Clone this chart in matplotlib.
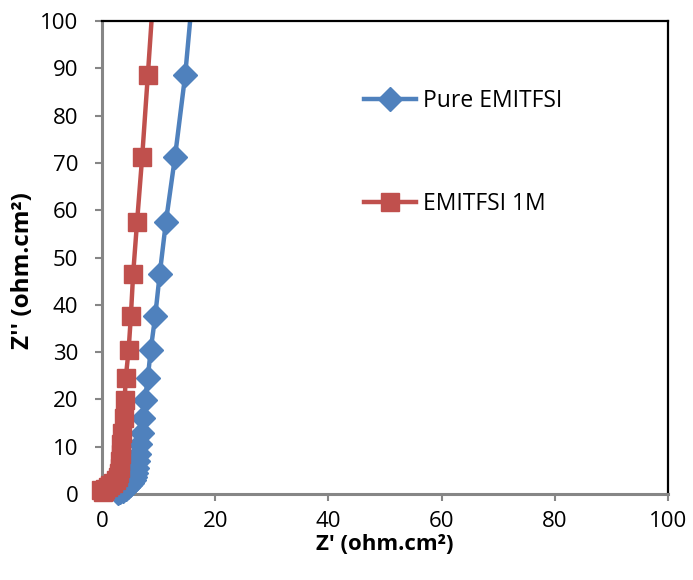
import numpy as np
import matplotlib
matplotlib.use("Agg")
import matplotlib.pyplot as plt

plt.rcParams['font.family'] = ['Open Sans', 'DejaVu Sans']

# Nyquist data: imaginary part (shared frequency points) and real parts
z_imag = [109.7, 88.6, 71.3, 57.6, 46.5, 37.6, 30.4, 24.6, 19.9, 16.1, 13.0,
          10.5, 8.5, 6.9, 5.6, 4.5, 3.6, 2.9, 2.3, 1.8, 1.4, 1.0, 0.7, 0.4, 0.2]
z_real_pure = [16.3, 14.7, 12.9, 11.3, 10.2, 9.4, 8.6, 8.1, 7.6, 7.2, 7.0,
               6.8, 6.6, 6.4, 6.2, 6.0, 5.8, 5.6, 5.3, 5.0, 4.6, 4.2, 3.7, 3.2, 2.8]
z_real_1m = [9.3, 8.1, 7.1, 6.2, 5.5, 5.1, 4.7, 4.2, 4.0, 3.8, 3.6,
             3.4, 3.3, 3.2, 3.1, 3.0, 2.8, 2.5, 2.0, 1.5, 1.0, 0.6, 0.3, 0.1, -0.2]
z_imag_1m = z_imag[:-1] + [0.8]

labels = ["Pure EMITFSI", "EMITFSI 1M"]
blue = "#4F81BD"
red = "#C0504D"

fig = plt.figure(figsize=(6.93, 5.80), dpi=100)
ax = fig.add_axes([102 / 693, 1 - 494 / 580, 566 / 693, 473 / 580])


def draw(x, y, color, marker, ms, label):
    x = np.asarray(x)
    y = np.asarray(y)
    ax.plot(x, y, color=color, lw=3.2, solid_capstyle='round', zorder=2)
    inside = y <= 100
    ax.plot(x[inside], y[inside], ls='none', marker=marker, ms=ms,
            color=color, mec=color, clip_on=False, zorder=3)
    ax.plot([], [], color=color, lw=3.2, marker=marker, ms=ms, mec=color,
            label=label)


draw(z_real_pure, z_imag, blue, 'D', 12, labels[0])
draw(z_real_1m, z_imag_1m, red, 's', 13, labels[1])

ax.set_xlim(0, 100)
ax.set_ylim(0, 100)
ax.set_xticks(np.arange(0, 101, 20))
ax.set_yticks(np.arange(0, 101, 10))

gray = "#868686"
for side in ('left', 'bottom'):
    ax.spines[side].set_color(gray)
    ax.spines[side].set_linewidth(2.2)
for side in ('top', 'right'):
    ax.spines[side].set_color('black')
    ax.spines[side].set_linewidth(1.6)
ax.tick_params(direction='out', length=5, width=1.5, color=gray,
               labelsize=16, labelcolor='black')
ax.tick_params(axis='x', pad=7)
ax.tick_params(axis='y', pad=12)

ax.set_xlabel("Z' (ohm.cm²)", fontsize=16, fontweight='bold', labelpad=2)
ax.set_ylabel("Z'' (ohm.cm²)", fontsize=17.5, fontweight='bold')
ax.yaxis.set_label_coords(-0.118, 0.472)

leg = ax.legend(loc='center left', bbox_to_anchor=(0.443, 0.722),
                frameon=False, fontsize=16.5, handlelength=2.25,
                handletextpad=0.3, labelspacing=3.45, borderpad=0)

fig.savefig("out.png", dpi=100)
